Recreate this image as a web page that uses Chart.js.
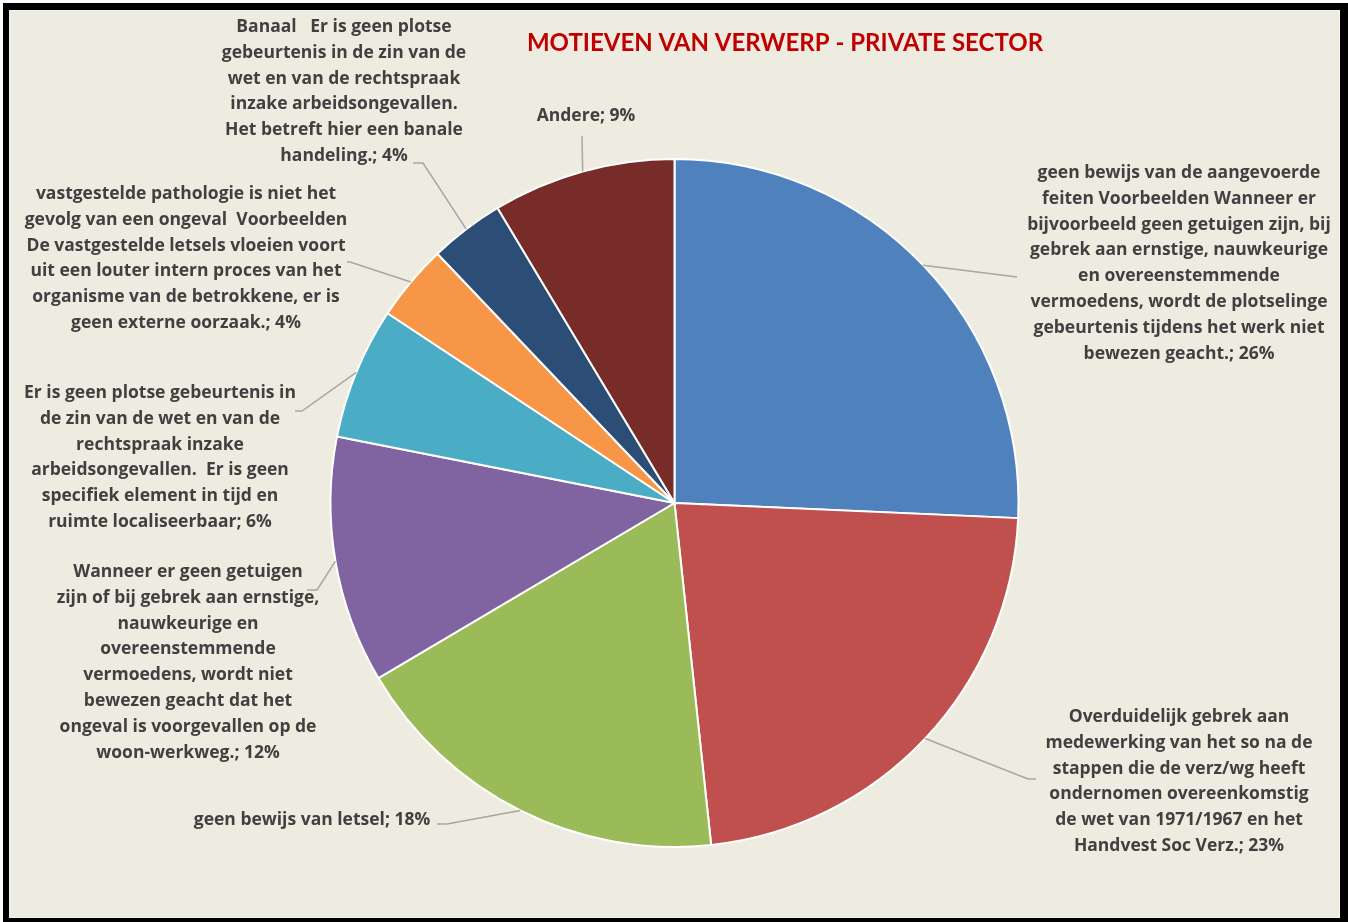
<!DOCTYPE html>
<html>
<head>
<meta charset="utf-8">
<script src="https://cdn.jsdelivr.net/npm/chart.js@4.4.1/dist/chart.umd.min.js"></script>
<style>
  html, body { margin: 0; padding: 0; background: #fff; }
  #frame {
    position: absolute; left: 3px; top: 3px; width: 1345px; height: 919px;
    background: #000;
  }
  #inner {
    position: absolute; left: 6px; top: 7px; width: 1331px; height: 908px;
    background: #EEECE1; box-shadow: inset 0 0 0 1px #f6f5ef;
  }
  canvas { display: block; }
</style>
</head>
<body>
<div id="frame"><div id="inner"><canvas id="pie" width="1331" height="908"></canvas></div></div>
<script>
// slice values (percent of rejections)
const values = [25.7, 22.6, 18.2, 11.6, 6.2, 3.6, 3.5, 8.6];

// category labels, already wrapped the way the picture wraps them
const labelLines = [
    ['geen bewijs van de aangevoerde', 'feiten Voorbeelden Wanneer er', 'bijvoorbeeld geen getuigen zijn, bij',
     'gebrek aan ernstige, nauwkeurige', 'en overeenstemmende', 'vermoedens, wordt de plotselinge',
     'gebeurtenis tijdens het werk niet', 'bewezen geacht.'],
    ['Overduidelijk gebrek aan', 'medewerking van het so na de', 'stappen die de verz/wg heeft',
     'ondernomen overeenkomstig', 'de wet van 1971/1967 en het', 'Handvest Soc Verz.'],
    ['geen bewijs van letsel'],
    ['Wanneer er geen getuigen', 'zijn of bij gebrek aan ernstige,', 'nauwkeurige en', 'overeenstemmende',
     'vermoedens, wordt niet', 'bewezen geacht dat het', 'ongeval is voorgevallen op de', 'woon-werkweg.'],
    ['Er is geen plotse gebeurtenis in', 'de zin van de wet en van de', 'rechtspraak inzake',
     'arbeidsongevallen.  Er is geen', 'specifiek element in tijd en', 'ruimte localiseerbaar'],
    ['vastgestelde pathologie is niet het', 'gevolg van een ongeval  Voorbeelden', 'De vastgestelde letsels vloeien voort',
     'uit een louter intern proces van het', 'organisme van de betrokkene, er is', 'geen externe oorzaak.'],
    ['Banaal   Er is geen plotse', 'gebeurtenis in de zin van de', 'wet en van de rechtspraak',
     'inzake arbeidsongevallen.', 'Het betreft hier een banale', 'handeling.'],
    ['Andere']
];

const sliceColors = ['#4F81BD', '#C0504D', '#9BBB59', '#8064A2', '#4BACC6', '#F79646', '#2C4D75', '#772C2A'];

const titleText = 'MOTIEVEN VAN VERWERP - PRIVATE SECTOR';

// where each label block sits (canvas px): text centre x, first line y, leader elbow and end
const labelLayout = [
    { x: 1170, y: 163, elbow: [1008, 267], end: [1008, 267] },
    { x: 1170, y: 707, elbow: [1019, 769], end: [1027, 769] },
    { x: 303, y: 810, elbow: [438, 814], end: [428, 814] },
    { x: 179, y: 562, elbow: [308, 580], end: [298, 580] },
    { x: 151, y: 383, elbow: [293, 401], end: [286, 401] },
    { x: 177, y: 184, elbow: [341, 252], end: [338, 252] },
    { x: 335, y: 17, elbow: [414, 153], end: [404, 153] },
    { x: 577, y: 106, elbow: [573, 126], end: [573, 126] }
];

const LINE_H = 25.8;
const FONT = 'bold 17.5px "Open Sans", Lato, sans-serif';

const labelPlugin = {
    id: 'sliceLabels',
    afterDraw(chart) {
        const ctx = chart.ctx;
        const meta = chart.getDatasetMeta(0);
        const total = values.reduce((a, b) => a + b, 0);

        ctx.save();
        // title
        ctx.fillStyle = '#C00000';
        ctx.font = 'bold 24px Lato, "Open Sans", sans-serif';
        ctx.textAlign = 'center';
        ctx.textBaseline = 'middle';
        ctx.fillText(titleText, 776, 33);

        meta.data.forEach((arc, i) => {
            const lay = labelLayout[i];
            const mid = (arc.startAngle + arc.endAngle) / 2;
            const px = arc.x + Math.cos(mid) * arc.outerRadius;
            const py = arc.y + Math.sin(mid) * arc.outerRadius;

            ctx.strokeStyle = '#A6A6A6';
            ctx.lineWidth = 1.5;
            ctx.beginPath();
            ctx.moveTo(px, py);
            ctx.lineTo(lay.elbow[0], lay.elbow[1]);
            ctx.lineTo(lay.end[0], lay.end[1]);
            ctx.stroke();

            const pct = Math.round(values[i] / total * 100);
            const lines = labelLines[i].slice();
            lines[lines.length - 1] += '; ' + pct + '%';
            ctx.fillStyle = '#404040';
            ctx.font = FONT;
            lines.forEach((t, k) => ctx.fillText(t, lay.x, lay.y + k * LINE_H));
        });
        ctx.restore();
    }
};

new Chart(document.getElementById('pie'), {
    type: 'pie',
    data: {
        labels: labelLines.map(l => l.join(' ')),
        datasets: [{
            data: values,
            backgroundColor: sliceColors,
            borderColor: '#ffffff',
            borderWidth: 2
        }]
    },
    options: {
        responsive: false,
        animation: false,
        layout: { padding: { top: 148, bottom: 70 } },
        plugins: {
            legend: { display: false },
            tooltip: { enabled: false },
            title: { display: false }
        }
    },
    plugins: [labelPlugin]
});
</script>
</body>
</html>
